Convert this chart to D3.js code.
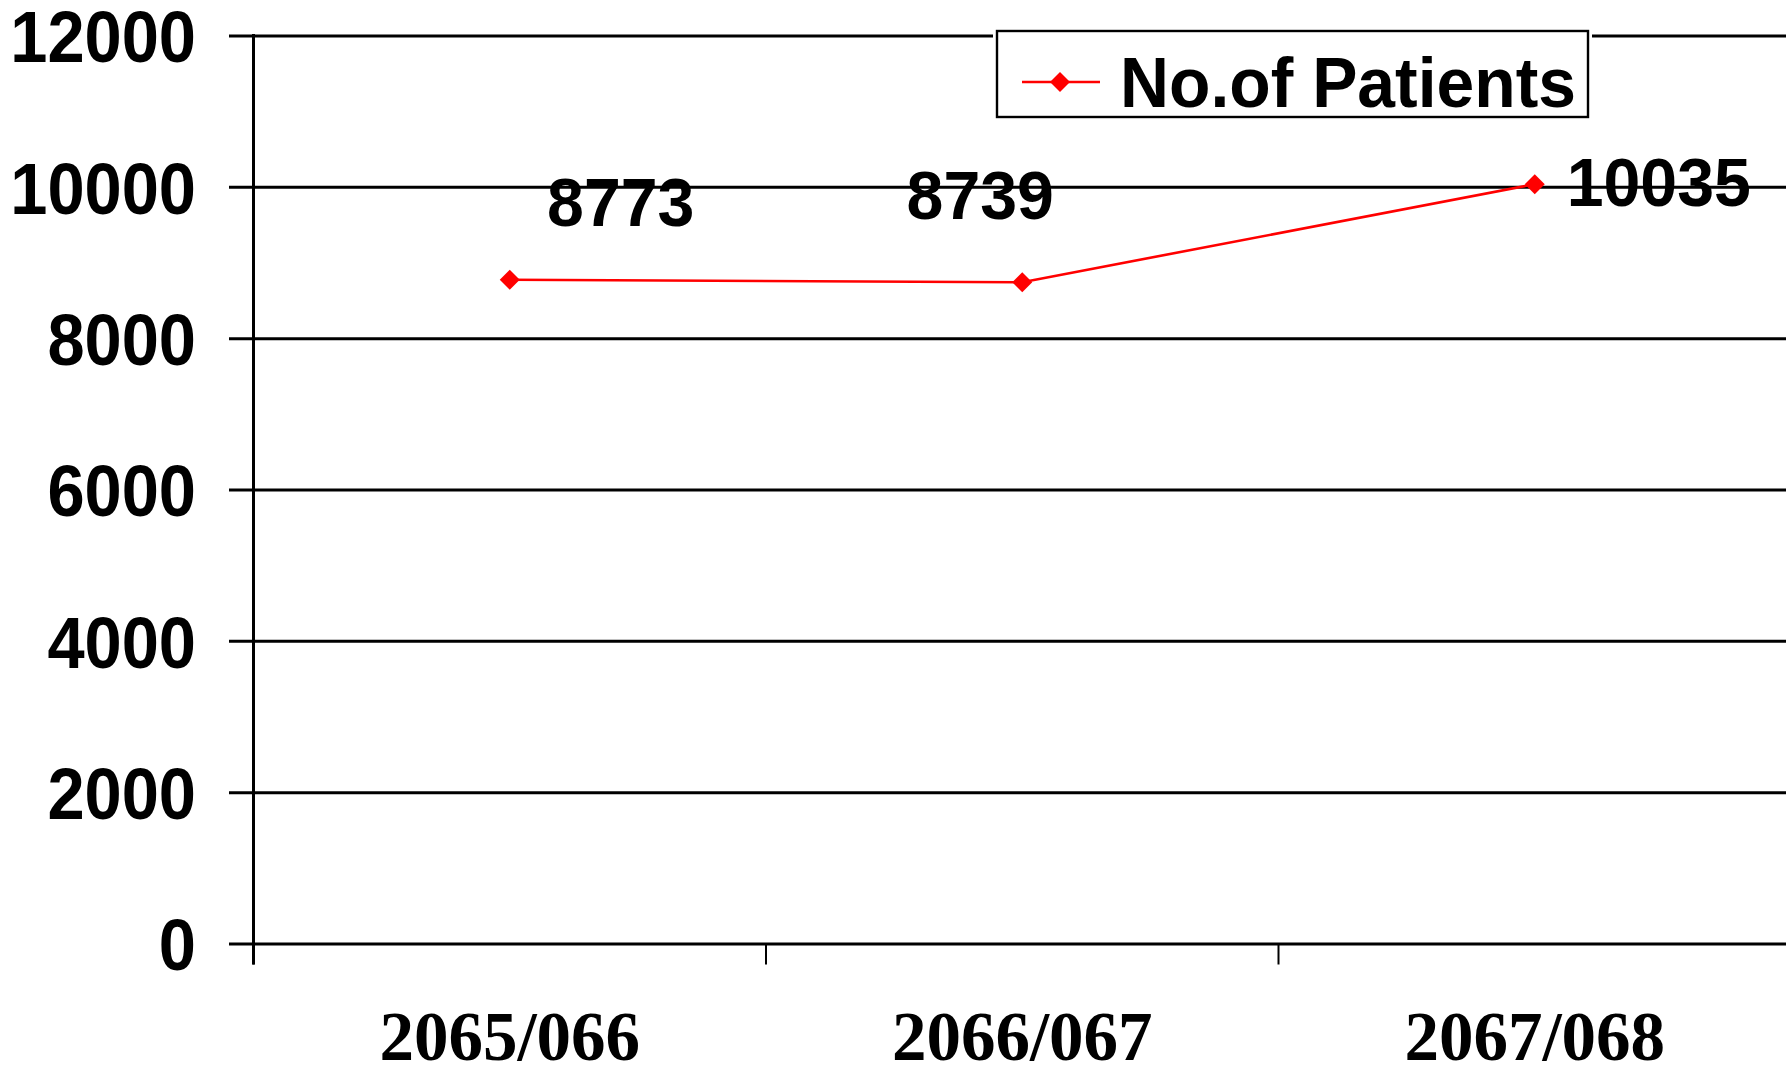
<!DOCTYPE html>
<html lang="en">
<head>
    <meta charset="UTF-8">
    <script src="https://d3js.org/d3.v7.min.js"></script>
    <title>No.of Patients</title>
    <style>
        body { margin: 0; background: #fff; }
        svg { display: block; }
    </style>
</head>
<body>
    <figure style="margin:0"></figure>
    <script>
        // data
        const years = ["2065/066", "2066/067", "2067/068"];
        const patients = [8773, 8739, 10035];
        const yTicks = [0, 2000, 4000, 6000, 8000, 10000, 12000];
        const seriesName = "No.of Patients";

        const w = 1786;
        const h = 1071;
        const plotLeft = 253.5;
        const plotTop = 35.5;
        const plotBottom = 943.5;
        const plotRight = 1791;

        const svg = d3.select("figure")
            .append("svg")
            .attr("width", w)
            .attr("height", h);

        // scales
        const xScale = d3.scaleBand()
            .domain(years)
            .range([plotLeft, plotRight]);

        const yScale = d3.scaleLinear()
            .domain([0, 12000])
            .range([plotBottom, plotTop]);

        const cx = d => xScale(d) + xScale.bandwidth() / 2;

        //grid lines + y labels
        const yAxis = d3.axisLeft(yScale)
            .tickValues(yTicks)
            .tickFormat(d3.format("d"))
            .tickSizeInner(-(plotRight - 229))
            .tickSizeOuter(0)
            .tickPadding(33);

        const gy = svg.append("g")
            .attr("transform", "translate(229, 0)")
            .call(yAxis);
        gy.select(".domain").remove();
        gy.selectAll(".tick line")
            .attr("stroke", "#000")
            .attr("stroke-width", 3);
        gy.selectAll(".tick text")
            .attr("fill", "#000")
            .attr("dy", "0.36em")
            .style("font-family", "'Liberation Sans', Arial, sans-serif")
            .style("font-weight", "bold")
            .style("font-size", "73px")
            .attr("lengthAdjust", "spacingAndGlyphs")
            .each(function() {
                // labels in the original are a little narrower than the font
                d3.select(this).attr("textLength", this.getComputedTextLength() * 0.915);
            });

        // vertical axis line
        svg.append("line")
            .attr("x1", plotLeft).attr("x2", plotLeft)
            .attr("y1", yScale(12000) - 1.5).attr("y2", plotBottom + 21)
            .attr("stroke", "#000")
            .attr("stroke-width", 3);

        // x-axis ticks at band edges
        svg.selectAll(".xtick")
            .data(years)
            .enter()
            .append("line")
            .attr("class", "xtick")
            .attr("x1", d => xScale(d)).attr("x2", d => xScale(d))
            .attr("y1", plotBottom).attr("y2", plotBottom + 21)
            .attr("stroke", "#000")
            .attr("stroke-width", 2);

        // x labels
        svg.selectAll(".xlabel")
            .data(years)
            .enter()
            .append("text")
            .attr("class", "xlabel")
            .attr("x", d => cx(d))
            .attr("y", 1060)
            .attr("text-anchor", "middle")
            .style("font-family", "'Liberation Serif', 'Times New Roman', serif")
            .style("font-weight", "bold")
            .style("font-size", "69px")
            .text(d => d);

        // the series
        const pts = years.map((y, i) => ({year: y, value: patients[i]}));

        const line = d3.line()
            .x(d => cx(d.year))
            .y(d => yScale(d.value));

        svg.append("path")
            .datum(pts)
            .attr("d", line)
            .attr("fill", "none")
            .attr("stroke", "#ff0000")
            .attr("stroke-width", 2.6);

        const diamond = d3.symbol().type(d3.symbolSquare).size(200);

        svg.selectAll(".marker")
            .data(pts)
            .enter()
            .append("path")
            .attr("class", "marker")
            .attr("d", diamond)
            .attr("transform", d => "translate(" + cx(d.year) + "," + yScale(d.value) + ") rotate(45)")
            .attr("fill", "#ff0000");

        // data labels, nudged like in the original
        const nudge = [[111, -54], [-42, -63], [124, 22]];

        svg.selectAll(".vlabel")
            .data(pts)
            .enter()
            .append("text")
            .attr("class", "vlabel")
            .attr("x", (d, i) => cx(d.year) + nudge[i][0])
            .attr("y", (d, i) => yScale(d.value) + nudge[i][1])
            .attr("text-anchor", "middle")
            .style("font-family", "'Liberation Sans', Arial, sans-serif")
            .style("font-weight", "bold")
            .style("font-size", "69px")
            .attr("lengthAdjust", "spacingAndGlyphs")
            .text(d => d.value)
            .each(function() {
                d3.select(this).attr("textLength", this.getComputedTextLength() * 0.96);
            });

        // legend
        const legend = svg.append("g").attr("transform", "translate(997, 31)");

        legend.append("rect")
            .attr("x", -4).attr("y", -4)
            .attr("width", 599).attr("height", 94)
            .attr("fill", "#fff");

        legend.append("rect")
            .attr("width", 591).attr("height", 86)
            .attr("fill", "#fff")
            .attr("stroke", "#000")
            .attr("stroke-width", 2.4);

        legend.append("line")
            .attr("x1", 25).attr("x2", 103)
            .attr("y1", 51).attr("y2", 51)
            .attr("stroke", "#ff0000")
            .attr("stroke-width", 2.6);

        legend.append("path")
            .attr("d", diamond)
            .attr("transform", "translate(63, 51) rotate(45)")
            .attr("fill", "#ff0000");

        legend.append("text")
            .attr("x", 123)
            .attr("y", 76)
            .attr("textLength", 456)
            .attr("lengthAdjust", "spacingAndGlyphs")
            .style("font-family", "'Liberation Sans', Arial, sans-serif")
            .style("font-weight", "bold")
            .style("font-size", "71px")
            .text(seriesName);
    </script>
</body>
</html>
